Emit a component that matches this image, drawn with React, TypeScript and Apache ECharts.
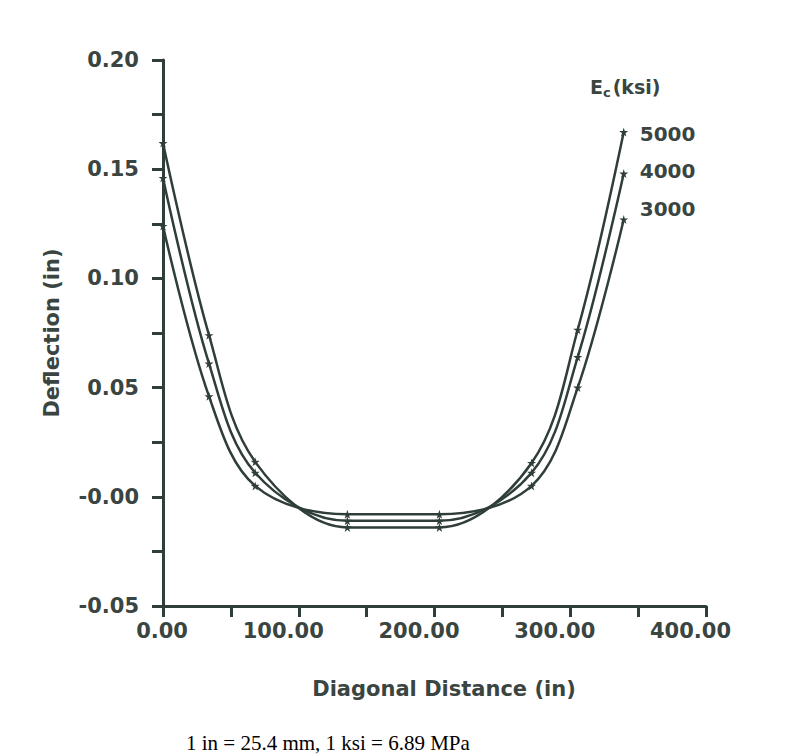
import React, { useEffect, useRef } from "react";
import * as echarts from "echarts";

// Diagonal distance (in) of the computed points
const distance = [0, 33.9, 67.9, 135.8, 203.6, 271.5, 305.5, 339.4];
// Deflection (in) for each concrete modulus
const ec5000 = [0.162, 0.074, 0.016, -0.014, -0.014, 0.0155, 0.0765, 0.167];
const ec4000 = [0.146, 0.061, 0.011, -0.011, -0.011, 0.011, 0.064, 0.148];
const ec3000 = [0.124, 0.046, 0.005, -0.008, -0.008, 0.005, 0.050, 0.127];
const seriesNames = ["5000", "4000", "3000"];

const INK = "#2f3e39";
const TXT = "#3a4542";
const FONT = "DejaVu Sans";
const STAR = "path://M50,0 L61,35 L98,35 L68,57 L79,91 L50,70 L21,91 L32,57 L2,35 L39,35 Z";

export default function App() {
  const ref = useRef<HTMLDivElement>(null);
  useEffect(() => {
    document.body.style.margin = "0";
    const chart = echarts.init(ref.current!, null, { renderer: "svg" });
    const values = [ec5000, ec4000, ec3000];
    const labelOffsets = [[0, 2], [0, -3], [0, -10]];
    chart.setOption({
      animation: false,
      backgroundColor: "#ffffff",
      title: [
        {
          text: "{a|E}{b|c}{a|(ksi)}",
          left: 585,
          top: 72,
          textStyle: {
            rich: {
              a: { fontFamily: FONT, fontWeight: "bold", fontSize: 19, lineHeight: 20, color: TXT },
              b: { fontFamily: FONT, fontWeight: "bold", fontSize: 13, lineHeight: 10, color: TXT, padding: [10, 2, 0, 0] },
            },
          },
        },
        {
          text: "1 in = 25.4 mm, 1 ksi = 6.89 MPa",
          left: 181,
          top: 727,
          textStyle: { fontFamily: "Liberation Serif", fontWeight: "normal", fontSize: 21, lineHeight: 22, color: "#000" },
        },
      ],
      grid: { left: 163, right: 95, top: 60, bottom: 148 },
      xAxis: {
        type: "value",
        min: 0,
        max: 400,
        interval: 50,
        name: "Diagonal Distance (in)",
        nameLocation: "middle",
        nameGap: 72,
        nameTextStyle: { fontFamily: FONT, fontWeight: "bold", fontSize: 21, color: TXT, padding: [0, 0, 0, 19] },
        axisLine: { show: true, onZero: false, lineStyle: { color: INK, width: 3 } },
        axisTick: { show: true, length: 11, lineStyle: { color: INK, width: 3 } },
        axisLabel: {
          margin: 14,
          align: "right",
          padding: [0, -25, 0, 0],
          fontFamily: FONT,
          fontWeight: "bold",
          fontSize: 21,
          color: TXT,
          formatter: (v: number) => (v % 100 === 0 ? v.toFixed(2) : ""),
        },
        splitLine: { show: false },
      },
      yAxis: {
        type: "value",
        min: -0.05,
        max: 0.2,
        interval: 0.025,
        name: "Deflection (in)",
        nameLocation: "middle",
        nameGap: 101,
        nameTextStyle: { fontFamily: FONT, fontWeight: "bold", fontSize: 21, color: TXT },
        axisLine: { show: true, onZero: false, lineStyle: { color: INK, width: 3 } },
        axisTick: { show: true, length: 11, lineStyle: { color: INK, width: 3 } },
        axisLabel: {
          margin: 24,
          fontFamily: FONT,
          fontWeight: "bold",
          fontSize: 21,
          color: TXT,
          formatter: (v: number) => {
            const r = Math.round(v * 1000);
            if (r % 50 !== 0) return "";
            return (r <= 0 ? "-" : "") + Math.abs(v).toFixed(2);
          },
        },
        splitLine: { show: false },
      },
      series: values.map((vals, i) => ({
        type: "line",
        name: seriesNames[i],
        data: distance.map((d, j) => [d, vals[j]]),
        smooth: 0.35,
        symbol: STAR,
        symbolSize: 9,
        showSymbol: true,
        lineStyle: { color: INK, width: 2.5 },
        itemStyle: { color: INK },
        endLabel: {
          show: true,
          formatter: seriesNames[i],
          distance: 16,
          offset: labelOffsets[i],
          fontFamily: FONT,
          fontWeight: "bold",
          fontSize: 20,
          color: TXT,
        },
      })),
    });
    return () => chart.dispose();
  }, []);
  return <div ref={ref} style={{ position: "fixed", left: 0, top: 0, width: 801, height: 754 }} />;
}
